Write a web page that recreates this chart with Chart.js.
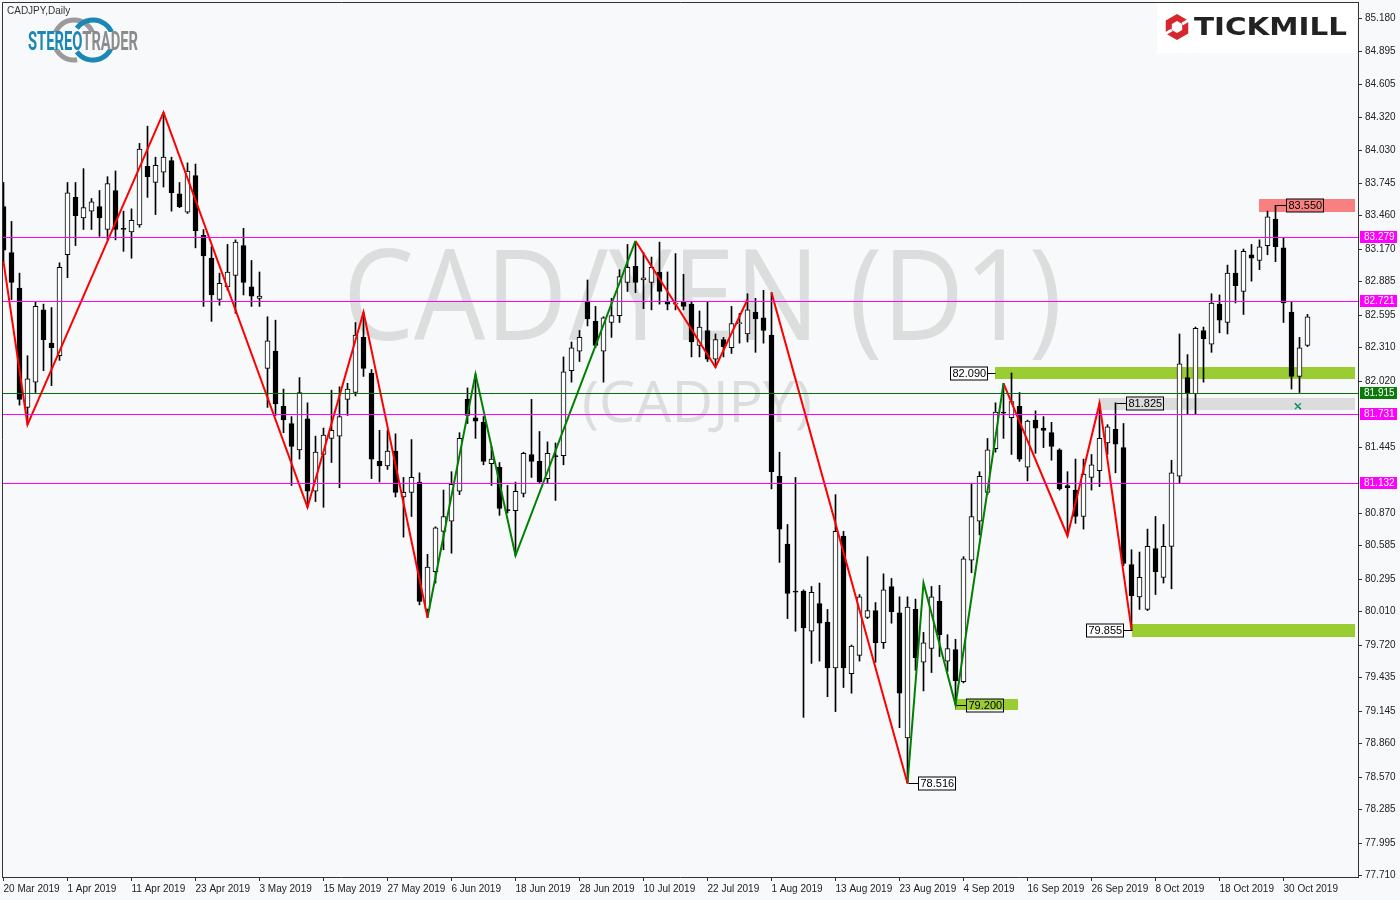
<!DOCTYPE html>
<html>
<head>
<meta charset="utf-8">
<title>CADJPY Daily</title>
<script src="https://cdn.jsdelivr.net/npm/chart.js@4.4.0/dist/chart.umd.min.js"></script>
<style>
  html, body { margin: 0; padding: 0; background: #f8f9fb; }
  #wrap { width: 1400px; height: 900px; }
</style>
</head>
<body>
<div id="wrap"><canvas id="grafico"></canvas></div>
<script>
// daily candles, 20 Mar 2019 .. 4 Nov 2019 (index 0..163)
const opens = [83.54,83.14,82.83,81.79,82.01,82.64,82.35,82.24,83.12,83.62,83.44,83.50,83.54,83.34,83.68,83.35,83.32,83.38,83.89,83.75,
  83.84,83.94,83.65,83.49,83.81,83.29,83.09,82.73,82.84,82.94,83.20,82.84,82.74,82.13,82.28,81.80,81.65,81.42,81.69,81.06,
  81.38,81.52,81.54,81.86,81.92,82.40,82.09,81.32,81.28,81.41,81.01,81.05,81.14,80.03,80.36,80.71,80.80,81.06,81.86,81.70,
  81.66,81.30,81.27,80.90,80.89,81.04,81.38,81.32,81.17,81.37,81.37,82.11,82.28,82.71,82.54,82.28,82.53,82.59,82.88,83.02,
  82.90,82.88,82.97,82.71,82.69,82.71,82.69,82.33,82.46,82.21,82.38,82.31,82.52,82.43,82.62,82.57,82.42,81.19,80.60,80.19,
  80.19,79.84,80.08,79.92,79.52,80.67,79.47,79.63,79.96,80.02,79.74,80.23,80.00,78.91,80.03,79.57,79.69,80.10,79.58,79.68,
  79.40,80.46,80.80,81.05,81.43,81.75,81.70,81.80,81.27,81.68,81.61,81.57,81.42,81.11,81.07,80.84,81.18,81.24,81.48,81.60,
  81.44,80.42,80.14,80.03,80.56,80.31,80.58,81.19,82.05,81.91,82.46,82.34,82.69,82.53,82.96,82.80,83.12,83.07,83.20,83.43,
  83.18,82.62,82.06,82.33];
const highs = [83.75,83.41,82.96,82.24,82.71,82.69,82.66,83.05,83.75,83.75,83.87,83.61,83.68,83.80,83.85,83.50,83.52,84.09,84.24,83.97,
  84.36,83.97,83.75,83.92,83.91,83.34,83.19,82.96,83.21,83.25,83.35,83.07,82.97,82.58,82.55,81.95,81.71,82.05,81.83,81.54,
  81.61,81.94,81.97,82.00,82.53,82.62,82.12,81.59,81.59,81.56,81.18,81.51,81.22,80.51,80.75,81.07,81.23,81.57,81.96,82.08,
  81.71,81.45,81.31,81.11,81.14,81.40,81.86,81.58,81.49,81.48,82.23,82.36,82.46,82.90,82.67,82.58,82.74,82.99,83.21,83.23,
  83.14,83.10,83.23,82.97,83.13,82.95,82.71,82.63,82.71,82.43,82.40,82.67,82.61,82.78,82.74,82.81,82.79,81.40,80.77,81.18,
  80.20,80.23,80.26,80.03,81.03,80.71,79.72,80.16,80.49,80.09,80.34,80.30,80.14,80.14,80.12,79.83,80.23,80.24,79.81,79.77,
  80.49,81.13,81.23,81.52,81.83,82.00,82.09,81.92,81.68,81.76,81.71,81.66,81.43,81.23,81.34,81.34,81.38,81.825,81.64,81.83,
  81.65,80.55,80.53,80.73,80.84,80.77,81.33,82.43,82.25,82.49,82.49,82.78,82.77,83.03,83.16,83.17,83.21,83.25,83.50,83.55,
  83.27,82.71,82.40,82.60];
const lows = [83.06,82.73,81.81,81.64,81.92,82.11,81.98,82.20,82.92,83.20,83.34,83.34,83.28,83.25,83.25,83.15,83.09,83.36,83.62,83.47,
  83.71,83.50,83.53,83.48,83.18,82.67,82.54,82.68,82.81,82.61,82.77,82.67,82.67,81.79,81.72,81.57,81.11,81.34,80.92,80.97,
  80.92,81.31,81.09,81.72,81.89,82.06,81.17,81.14,81.25,81.01,80.66,80.84,80.07,79.96,80.26,80.55,80.52,81.03,81.65,81.52,
  81.29,81.11,80.85,80.87,80.50,81.01,81.18,81.13,81.13,80.98,81.29,82.01,82.19,82.50,82.31,82.01,82.40,82.53,82.80,82.79,
  82.65,82.64,82.69,82.64,82.64,82.64,82.23,82.23,82.19,82.14,82.23,82.26,82.35,82.36,82.27,82.35,81.08,80.44,79.95,79.84,
  79.09,79.56,79.58,79.27,79.14,79.35,79.30,79.58,79.95,79.57,79.69,79.91,79.00,78.516,79.50,79.32,79.48,79.62,79.49,79.20,
  79.39,80.35,80.68,81.03,81.40,81.52,81.38,81.32,81.15,81.39,81.44,81.33,81.07,80.67,80.78,80.73,81.07,81.10,81.38,81.22,
  80.41,79.855,80.03,80.02,80.16,80.26,80.21,81.13,81.73,81.73,82.01,82.27,82.44,82.43,82.70,82.60,82.89,82.99,83.12,83.06,
  82.53,81.95,81.92,82.32];
const closes = [83.16,82.88,81.86,82.04,82.67,82.38,82.31,83.01,83.66,83.46,83.53,83.58,83.44,83.74,83.34,83.34,83.42,84.04,83.80,83.90,
  83.97,83.66,83.54,83.85,83.33,83.11,82.77,82.87,82.97,83.23,82.88,82.76,82.76,82.37,81.82,81.68,81.45,81.92,81.06,81.40,
  81.55,81.59,81.71,81.95,82.42,82.13,81.34,81.28,81.41,81.05,81.05,81.18,80.10,80.40,80.74,80.84,81.12,81.52,81.72,81.67,
  81.32,81.34,80.91,80.89,81.06,81.39,81.32,81.14,81.39,81.36,82.10,82.31,82.40,82.56,82.33,82.57,82.59,82.93,83.01,82.88,
  82.92,83.01,82.80,82.69,82.69,82.67,82.36,82.49,82.21,82.38,82.32,82.52,82.53,82.64,82.56,82.46,81.23,80.73,80.17,80.18,
  79.87,80.18,79.91,79.52,80.71,79.52,79.71,80.14,80.02,79.74,80.20,80.01,79.30,80.05,79.61,79.74,80.14,79.81,79.69,79.41,
  80.47,80.84,81.19,81.42,81.75,81.74,81.84,81.34,81.67,81.61,81.59,81.45,81.08,81.09,80.84,81.21,81.29,81.52,81.62,81.47,
  80.43,80.15,80.31,80.58,80.36,80.58,81.22,82.17,81.91,82.48,82.39,82.70,82.55,82.96,82.85,83.15,83.09,83.19,83.45,83.19,
  82.70,82.06,82.31,82.58];

const tickIdx = [0,8,16,24,32,40,48,56,64,72,80,88,96,104,112,120,128,136,144,152,160];
const tickLabels = ['20 Mar 2019','1 Apr 2019','11 Apr 2019','23 Apr 2019','3 May 2019','15 May 2019','27 May 2019',
  '6 Jun 2019','18 Jun 2019','28 Jun 2019','10 Jul 2019','22 Jul 2019','1 Aug 2019','13 Aug 2019','23 Aug 2019',
  '4 Sep 2019','16 Sep 2019','26 Sep 2019','8 Oct 2019','18 Oct 2019','30 Oct 2019'];
const priceTicks = [77.710,77.995,78.285,78.570,78.860,79.145,79.435,79.720,80.010,80.295,80.585,80.870,81.445,
  82.020,82.310,82.595,82.885,83.170,83.460,83.745,84.030,84.320,84.605,84.895,85.180];

// zigzag swings [index, price]
const zigRed1 = [[0,83.06],[3,81.64],[20,84.36],[38,80.92],[45,82.62],[53,79.96]];
const zigGreen1 = [[53,79.96],[59,82.08],[64,80.50],[79,83.24]];
const zigRed2 = [[79,83.24],[89,82.14],[93,82.73],[94.5,null],[96,82.79],[113,78.516]];
const zigGreen2 = [[113,78.516],[115,80.26],[119,79.20],[125,82.00]];
const zigRed3 = [[125,82.00],[133,80.67],[137,81.825],[141,79.855]];

const magentaLevels = [83.279, 82.721, 81.731, 81.132];
const greenLevel = 81.915;

// rectangles: from/to index, top/bottom price
const zones = [
  {from: 123.9, to: 168.9, top: 82.14, bottom: 82.04, color: '#9acd32'},
  {from: 136.8, to: 168.9, top: 81.87, bottom: 81.77, color: '#dcdcdc'},
  {from: 141,   to: 168.9, top: 79.90, bottom: 79.79, color: '#9acd32'},
  {from: 118.9, to: 126.8, top: 79.25, bottom: 79.15, color: '#9acd32'},
  {from: 156.9, to: 168.9, top: 83.61, bottom: 83.49, color: '#f88080'}
];
// price tags: box left at index, linked to index
const tags = [
  {text: '82.090', price: 82.090, box: 118.3, link: 123.9, fill: '#ffffff'},
  {text: '81.825', price: 81.825, box: 140.3, link: 139, fill: null},
  {text: '79.855', price: 79.855, box: 135.3, link: 141, fill: '#ffffff'},
  {text: '78.516', price: 78.516, box: 114.3, link: 113, fill: '#ffffff'},
  {text: '83.550', price: 83.550, box: 160.3, link: 159, fill: null},
  {text: '79.200', price: 79.200, box: 120.3, link: 119, fill: null}
];

const wickData = opens.map((o, i) => ({x: i, y: [lows[i], highs[i]]}));
const bodyData = opens.map((o, i) => ({x: i, y: [o, closes[i]]}));
const bodyFill = opens.map((o, i) => closes[i] >= o ? '#ffffff' : '#000000');
const pts = arr => arr.map(p => ({x: p[0], y: p[1]}));

const zigLine = (data, color) => ({
  type: 'line', data: pts(data), borderColor: color, borderWidth: 2,
  pointRadius: 0, tension: 0, spanGaps: false, order: -1
});

const axisFamily = '"Liberation Sans", Arial, sans-serif';
const tickFont = {family: axisFamily, size: 10};

const decor = {
  id: 'decor',
  beforeDraw(chart) {
    const ctx = chart.ctx;
    ctx.save();
    ctx.fillStyle = '#f8f9fb';
    ctx.fillRect(0, 0, chart.width, chart.height);
    ctx.restore();
  },
  beforeDatasetsDraw(chart) {
    const {ctx, chartArea: a, scales: {x, y}} = chart;
    ctx.save();
    ctx.beginPath();
    ctx.rect(a.left, a.top, a.right - a.left, a.bottom - a.top);
    ctx.clip();
    // watermark
    ctx.fillStyle = '#dcdddd';
    ctx.textAlign = 'center';
    ctx.textBaseline = 'alphabetic';
    ctx.font = '126px "Open Sans", sans-serif';
    let w = ctx.measureText('CAD/YEN (D1)').width;
    ctx.save();
    ctx.translate(702.5, 340);
    ctx.scale(719 / w, 1);
    ctx.fillText('CAD/YEN (D1)', 0, 0);
    ctx.restore();
    ctx.font = '56px "Open Sans", sans-serif';
    w = ctx.measureText('(CADJPY)').width;
    ctx.save();
    ctx.translate(697, 422);
    ctx.scale(230 / w, 1);
    ctx.fillText('(CADJPY)', 0, 0);
    ctx.restore();
    // rectangles
    zones.forEach(z => {
      const x0 = Math.round(x.getPixelForValue(z.from));
      const x1 = Math.round(x.getPixelForValue(z.to));
      const y0 = Math.round(y.getPixelForValue(z.top));
      const y1 = Math.round(y.getPixelForValue(z.bottom));
      ctx.fillStyle = z.color;
      ctx.fillRect(x0, y0, x1 - x0, y1 - y0);
    });
    ctx.restore();
  },
  afterDatasetsDraw(chart) {
    const {ctx, chartArea: a, scales: {x, y}} = chart;
    ctx.save();
    ctx.beginPath();
    ctx.rect(a.left, a.top, a.right - a.left, a.bottom - a.top);
    ctx.clip();
    ctx.lineWidth = 1;
    const hline = (p, c) => {
      const py = Math.round(y.getPixelForValue(p)) + 0.5;
      ctx.strokeStyle = c;
      ctx.beginPath(); ctx.moveTo(a.left, py); ctx.lineTo(a.right, py); ctx.stroke();
    };
    magentaLevels.forEach(p => hline(p, '#ff00ff'));
    hline(greenLevel, '#0a6e0a');
    // price tags
    ctx.font = '11px "Liberation Sans", Arial, sans-serif';
    ctx.textBaseline = 'middle';
    ctx.textAlign = 'left';
    tags.forEach(t => {
      const py = Math.round(y.getPixelForValue(t.price)) + 0.5;
      const bx = Math.round(x.getPixelForValue(t.box)) + 0.5;
      const bw = Math.round(ctx.measureText(t.text).width) + 3;
      const lx = Math.round(x.getPixelForValue(t.link)) + 0.5;
      ctx.strokeStyle = '#000';
      ctx.beginPath();
      if (lx < bx) { ctx.moveTo(lx, py); ctx.lineTo(bx, py); }
      else { ctx.moveTo(bx + bw, py); ctx.lineTo(lx, py); }
      ctx.stroke();
      if (t.fill) { ctx.fillStyle = t.fill; ctx.fillRect(bx, py - 6.5, bw, 13); }
      ctx.strokeRect(bx, py - 6.5, bw, 13);
      ctx.fillStyle = '#000';
      ctx.fillText(t.text, bx + 2, py + 0.5);
    });
    // small cross marker
    const mx = x.getPixelForValue(161.8), my = y.getPixelForValue(81.80);
    ctx.lineWidth = 1.5;
    ctx.strokeStyle = '#0a7a2a';
    ctx.beginPath(); ctx.moveTo(mx - 3, my - 3); ctx.lineTo(mx + 3, my + 3); ctx.stroke();
    ctx.strokeStyle = '#1a9ab0';
    ctx.beginPath(); ctx.moveTo(mx + 3, my - 3); ctx.lineTo(mx - 3, my + 3); ctx.stroke();
    ctx.restore();
  },
  afterDraw(chart) {
    const {ctx, chartArea: a, scales: {y}} = chart;
    ctx.save();
    // frame
    ctx.strokeStyle = '#333';
    ctx.lineWidth = 1;
    ctx.beginPath();
    ctx.moveTo(a.left + 0.5, a.bottom); ctx.lineTo(a.left + 0.5, a.top + 0.5); ctx.lineTo(a.right, a.top + 0.5);
    ctx.stroke();
    // level tags on price axis
    ctx.font = '10px ' + axisFamily;
    ctx.textBaseline = 'middle';
    ctx.textAlign = 'left';
    const axisTag = (p, bg) => {
      const py = Math.round(y.getPixelForValue(p));
      ctx.fillStyle = bg;
      ctx.fillRect(a.right + 2, py - 6, 37, 12);
      ctx.fillStyle = '#ffffff';
      ctx.fillText(p.toFixed(3), a.right + 6, py + 0.5);
    };
    magentaLevels.forEach(p => axisTag(p, '#ff00ff'));
    axisTag(greenLevel, '#0a7a0a');
    // symbol caption
    ctx.fillStyle = '#333';
    ctx.font = '10px ' + axisFamily;
    ctx.fillText('CADJPY,Daily', 7, 11);
    // StereoTrader logo
    ctx.lineWidth = 5;
    ctx.strokeStyle = '#9a9a9a';
    ctx.beginPath(); ctx.arc(74, 40, 20, 0.45 * Math.PI, 1.95 * Math.PI); ctx.stroke();
    ctx.strokeStyle = '#1b87b3';
    ctx.beginPath(); ctx.arc(93, 40, 20, 1.2 * Math.PI, 2.8 * Math.PI); ctx.stroke();
    ctx.fillStyle = '#f8f9fb';
    ctx.fillRect(26, 32, 114, 17);
    ctx.font = 'bold 26px Roboto, sans-serif';
    ctx.textBaseline = 'alphabetic';
    const wS = ctx.measureText('STEREO').width, wT = ctx.measureText('TRADER').width;
    const k = 110 / (wS + wT);
    ctx.save();
    ctx.translate(28, 50);
    ctx.scale(k, 1);
    ctx.fillStyle = '#1b87b3';
    ctx.fillText('STEREO', 0, 0);
    ctx.fillStyle = '#8c8c8c';
    ctx.fillText('TRADER', wS, 0);
    ctx.restore();
    // Tickmill logo
    ctx.fillStyle = '#ffffff';
    ctx.fillRect(1157, 3, 200, 50);
    const hx = 1177, hy = 27;
    const hex = r => {
      ctx.beginPath();
      for (let i = 0; i < 6; i++) {
        const ang = Math.PI / 6 + i * Math.PI / 3;
        const px = hx + r * Math.cos(ang), py2 = hy + r * Math.sin(ang);
        if (i === 0) ctx.moveTo(px, py2); else ctx.lineTo(px, py2);
      }
      ctx.closePath();
    };
    ctx.fillStyle = '#d7262d';
    hex(13); ctx.fill();
    ctx.fillStyle = '#ffffff';
    hex(6); ctx.fill();
    ctx.save();
    ctx.translate(hx, hy); ctx.rotate(-Math.PI / 6);
    ctx.fillRect(-15, -1.5, 9, 3);
    ctx.fillRect(6, -1.5, 9, 3);
    ctx.restore();
    ctx.fillStyle = '#222222';
    ctx.font = 'bold 24px "DejaVu Sans", sans-serif';
    const wTM = ctx.measureText('TICKMILL').width;
    ctx.save();
    ctx.translate(1194, 35);
    ctx.scale(153 / wTM, 1);
    ctx.fillText('TICKMILL', 0, 0);
    ctx.restore();
    ctx.restore();
  }
};

new Chart(document.getElementById('grafico'), {
  type: 'bar',
  data: {
    datasets: [
      zigLine(zigRed1, '#ff0000'),
      zigLine(zigGreen1, '#008000'),
      zigLine(zigRed2, '#ff0000'),
      zigLine(zigGreen2, '#008000'),
      zigLine(zigRed3, '#ff0000'),
      {
        label: 'body', data: bodyData, grouped: false, barThickness: 5, minBarLength: 1,
        backgroundColor: bodyFill, borderColor: '#000000', borderWidth: 1, borderSkipped: false, order: 0
      },
      {
        label: 'wick', data: wickData, grouped: false, barThickness: 1,
        backgroundColor: '#000000', borderWidth: 0, order: 1
      }
    ]
  },
  options: {
    responsive: true,
    maintainAspectRatio: false,
    animation: false,
    events: [],
    layout: {padding: {left: 2, top: 2, right: 0, bottom: 0}},
    plugins: {legend: {display: false}, tooltip: {enabled: false}, title: {display: false}},
    scales: {
      x: {
        type: 'linear', min: -0.1875, max: 169.3125, offset: false,
        grid: {drawOnChartArea: false, drawTicks: true, tickLength: 4, color: '#333', offset: false},
        border: {display: true, color: '#333'},
        afterBuildTicks: s => { s.ticks = tickIdx.map(v => ({value: v})); },
        afterFit: s => { s.height = 23; s.paddingLeft = 0; s.paddingRight = 0; },
        ticks: {
          autoSkip: false, maxRotation: 0, align: 'start', padding: 2, color: '#222', font: tickFont,
          callback: v => tickLabels[tickIdx.indexOf(v)]
        }
      },
      y: {
        type: 'linear', position: 'right', min: 77.699, max: 85.322, beginAtZero: false,
        grid: {drawOnChartArea: false, drawTicks: true, tickLength: 4, color: '#333'},
        border: {display: true, color: '#333'},
        afterBuildTicks: s => { s.ticks = priceTicks.map(v => ({value: v})); },
        afterFit: s => { s.width = 42; s.paddingTop = 0; s.paddingBottom = 0; },
        ticks: {autoSkip: false, padding: 3, color: '#222', font: tickFont, callback: v => v.toFixed(3)}
      }
    }
  },
  plugins: [decor]
});
</script>
</body>
</html>
